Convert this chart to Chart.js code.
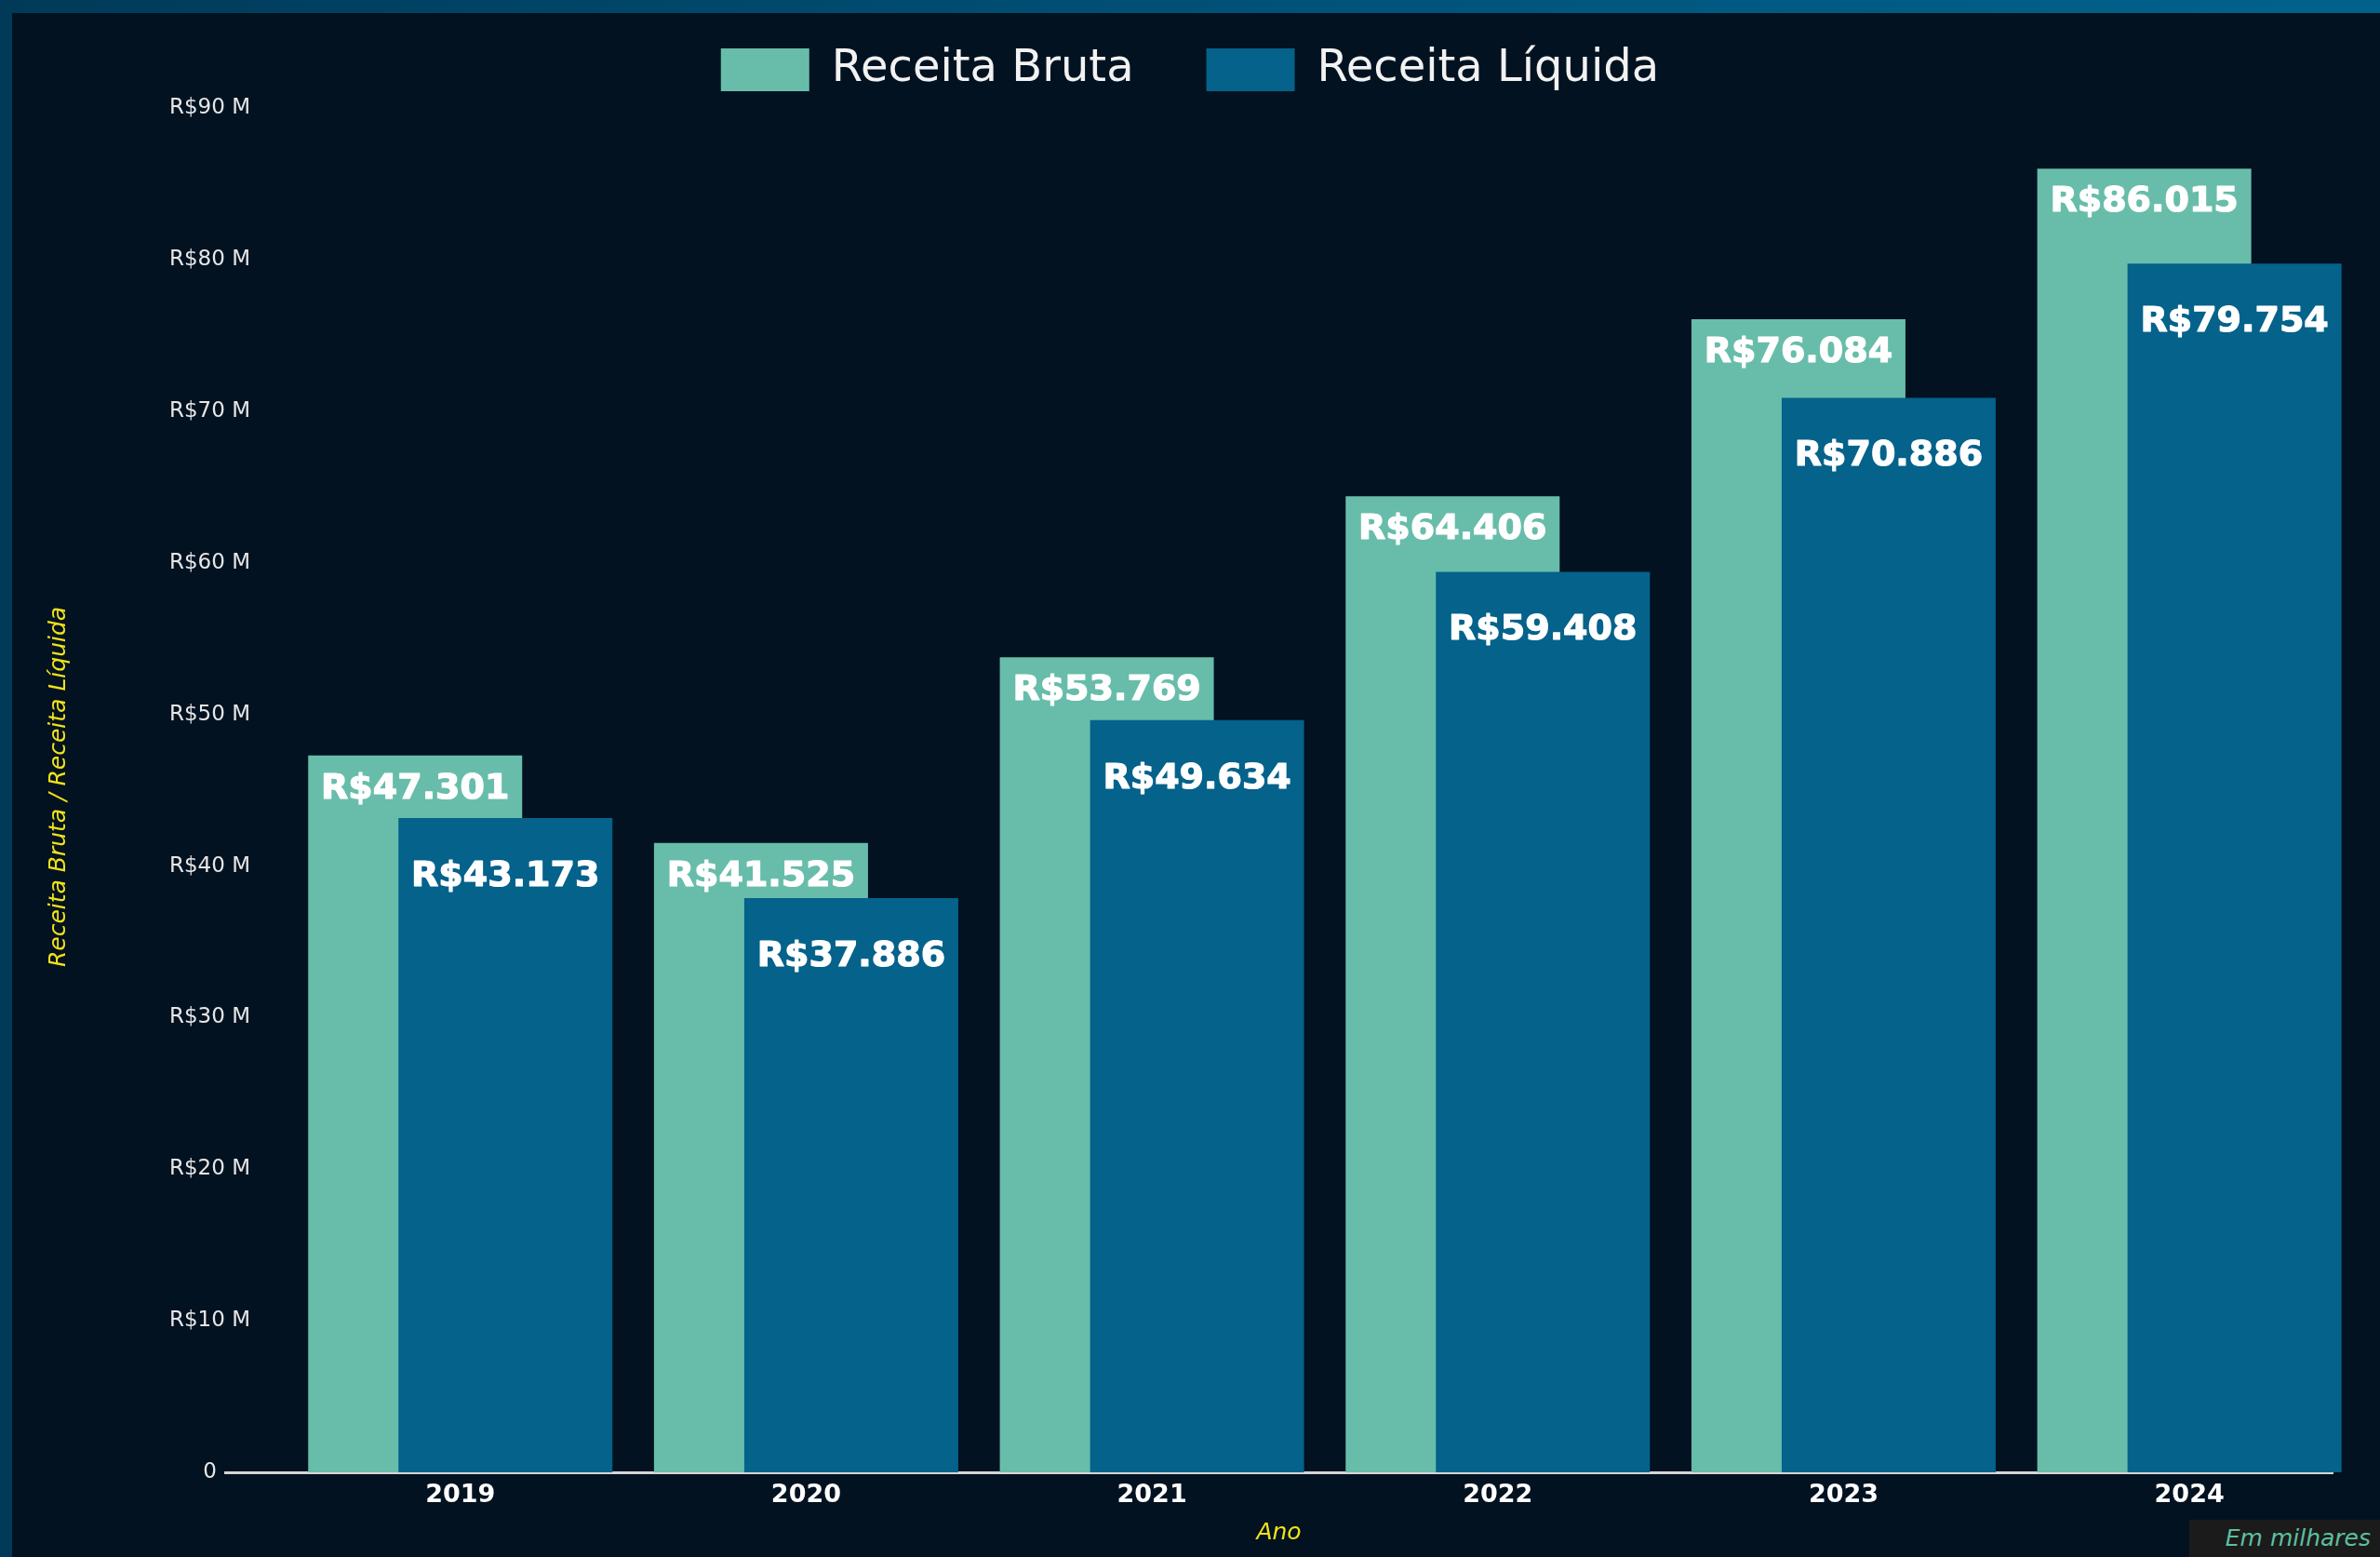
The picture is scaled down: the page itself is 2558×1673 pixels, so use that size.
<!DOCTYPE html>
<html lang="pt-BR">
<head>
<meta charset="utf-8">
<title>Receita Bruta x Receita Líquida</title>
<script src="https://cdn.jsdelivr.net/npm/chart.js@4.4.1/dist/chart.umd.min.js"></script>
<style>
    html, body { margin: 0; padding: 0; }
    body {
        width: 2558px;
        height: 1673px;
        overflow: hidden;
        position: relative;
        background: linear-gradient(90deg, #003a58 0%, #004c71 40%, #005a83 75%, #00628b 100%);
        font-family: 'DejaVu Sans', sans-serif;
    }
    .panel { position: absolute; left: 13px; top: 14px; right: 0; bottom: 0; background: #031221; }
    .chart-wrap { position: absolute; left: 0; top: 0; width: 2558px; height: 1673px; }
    .nota {
        position: absolute; left: 2353px; top: 1633px; width: 205px; height: 40px;
        background: #1b1b1b; color: #5dbf9f; font-style: italic; font-size: 25px;
        line-height: 40px; text-align: right; padding-right: 10px; box-sizing: border-box;
    }
</style>
</head>
<body>
<div class="panel"></div>
<div class="chart-wrap"><canvas id="receitaChart"></canvas></div>
<div class="nota">Em milhares</div>

<script>
// Dados (R$ milhões)
const anos = ['2019', '2020', '2021', '2022', '2023', '2024'];
const receitaBruta = [47.301, 41.525, 53.769, 64.406, 76.084, 86.015];
const receitaLiquida = [43.173, 37.886, 49.634, 59.408, 70.886, 79.754];
const rotulosY = ['0', 'R$10 M', 'R$20 M', 'R$30 M', 'R$40 M', 'R$50 M', 'R$60 M', 'R$70 M', 'R$80 M', 'R$90 M'];

const COR_BRUTA = '#68bdaa';
const COR_LIQUIDA = '#04628b';
const AMARELO = '#efe21b';

Chart.defaults.font.family = '"DejaVu Sans", sans-serif';

// Barras sobrepostas: verde desenhada primeiro, azul por cima + rótulos de valor
const barrasSobrepostas = {
    id: 'barrasSobrepostas',
    beforeDatasetsDraw(chart) {
        chart.data.datasets.forEach((ds, i) => {
            if (chart.isDatasetVisible(i)) chart.getDatasetMeta(i).controller.draw();
        });
        return false;
    },
    afterDraw(chart) {
        const ctx = chart.ctx;
        ctx.save();
        ctx.font = 'bold 38px "DejaVu Sans"';
        ctx.fillStyle = '#ffffff';
        ctx.strokeStyle = '#ffffff';
        ctx.lineWidth = 1.2;
        ctx.lineJoin = 'round';
        ctx.textAlign = 'center';
        ctx.textBaseline = 'middle';
        chart.data.datasets.forEach((ds, i) => {
            chart.getDatasetMeta(i).data.forEach((bar, j) => {
                const txt = 'R$' + ds.data[j].y.toFixed(3);
                ctx.fillText(txt, bar.x, bar.y + ds.labelOffset);
                ctx.strokeText(txt, bar.x, bar.y + ds.labelOffset);
            });
        });
        ctx.restore();
    }
};

const ctx = document.getElementById('receitaChart').getContext('2d');
new Chart(ctx, {
    type: 'bar',
    data: {
        datasets: [{
            label: 'Receita Bruta',
            data: receitaBruta.map((v, i) => ({ x: i, y: v })),
            backgroundColor: COR_BRUTA,
            borderWidth: 0,
            labelOffset: 36
        }, {
            label: 'Receita Líquida',
            data: receitaLiquida.map((v, i) => ({ x: i, y: v })),
            backgroundColor: COR_LIQUIDA,
            borderWidth: 0,
            labelOffset: 63
        }]
    },
    options: {
        responsive: true,
        maintainAspectRatio: false,
        animation: false,
        layout: { padding: { top: -27, left: 51, right: 51, bottom: 0 } },
        datasets: { bar: { categoryPercentage: 0.522, barPercentage: 2.371 } },
        plugins: {
            legend: {
                position: 'top',
                align: 'center',
                labels: { color: '#f2f2f2', font: { size: 48 }, boxWidth: 95, boxHeight: 46, padding: 78 }
            },
            tooltip: { enabled: false }
        },
        scales: {
            x: {
                type: 'linear',
                offset: false,
                min: -0.68,
                max: 5.414,
                grid: { display: false, drawTicks: false, offset: false },
                border: { display: true, color: '#d6d6d6', width: 3 },
                ticks: {
                    stepSize: 1,
                    includeBounds: false,
                    autoSkip: false,
                    maxRotation: 0,
                    padding: 9,
                    color: '#ffffff',
                    font: { size: 27, weight: 'bold' },
                    callback: (v) => anos[v] ?? ''
                },
                title: {
                    display: true, text: 'Ano', color: AMARELO,
                    font: { size: 25, style: 'italic' }, padding: { top: 0, bottom: 11 }
                },
                afterFit(scale) { scale.height = 91; }
            },
            y: {
                min: 0,
                max: 90.45,
                grid: { display: false, drawTicks: false },
                border: { display: false },
                ticks: {
                    stepSize: 10,
                    includeBounds: false,
                    mirror: true,
                    padding: -60,
                    crossAlign: 'center',
                    color: '#e6e6e6',
                    font: { size: 23 },
                    callback: (v) => rotulosY[v / 10]
                },
                title: {
                    display: true, text: 'Receita Bruta / Receita Líquida', color: AMARELO,
                    font: { size: 25, style: 'italic', lineHeight: 1 }, padding: { top: 0, bottom: 0 }
                },
                afterFit(scale) { scale.width = 191; }
            }
        }
    },
    plugins: [barrasSobrepostas]
});
</script>
</body>
</html>
